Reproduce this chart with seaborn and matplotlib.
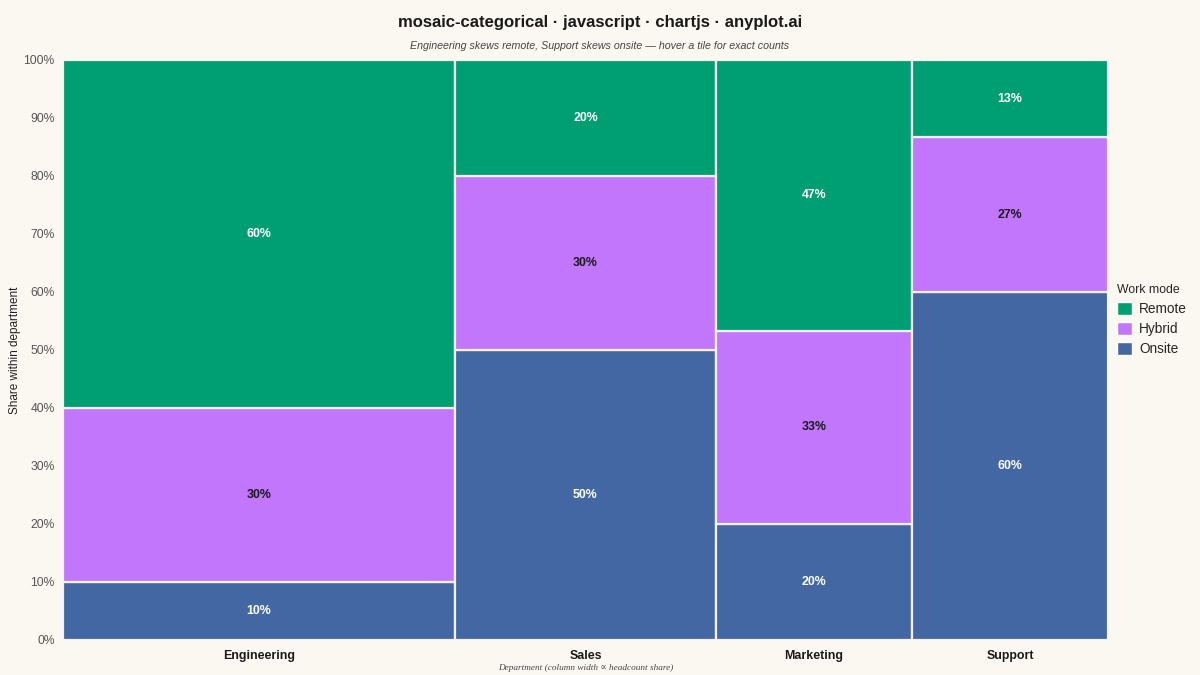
import numpy as np
import pandas as pd
import seaborn as sns
import matplotlib.pyplot as plt
from matplotlib.patches import Patch

# Headcounts (column widths + tile shares)
departments = ["Engineering", "Sales", "Marketing", "Support"]
modes = ["Onsite", "Hybrid", "Remote"]
onsite = [12, 40, 12, 36]
hybrid = [36, 24, 20, 16]
remote = [72, 16, 28, 8]

colors = {"Remote": "#009E73", "Hybrid": "#C176FC", "Onsite": "#4367A3"}
bg = "#FAF8F1"

df = pd.DataFrame({"Department": departments, "Onsite": onsite,
                   "Hybrid": hybrid, "Remote": remote})
df["Total"] = df[modes].sum(axis=1)
df["Width"] = df["Total"] / df["Total"].sum()
df["Left"] = df["Width"].cumsum() - df["Width"]

sns.set_theme(style="whitegrid")
plt.rcParams["font.family"] = ["Liberation Sans", "DejaVu Sans"]

fig = plt.figure(figsize=(12, 6.75), dpi=100, facecolor=bg)
ax = fig.add_axes([63 / 1200, 1 - 640 / 675, 1045 / 1200, 580 / 675])
ax.set_facecolor(bg)

for _, row in df.iterrows():
    bottom = 0.0
    for m in modes:
        share = row[m] / row["Total"]
        ax.bar(row["Left"], share, width=row["Width"], bottom=bottom, align="edge",
               color=colors[m], edgecolor="#f4f2ec", linewidth=1.6, zorder=2)
        txt_color = "#1a1a1a" if m == "Hybrid" else "white"
        ax.text(row["Left"] + row["Width"] / 2, bottom + share / 2, f"{share:.0%}",
                ha="center", va="center", fontsize=8.9, fontweight="bold",
                color=txt_color, zorder=3)
        bottom += share

ax.set_xlim(0, 1)
ax.set_ylim(0, 1)
ax.set_yticks(np.arange(0, 1.01, 0.1))
ax.set_yticklabels([f"{int(v * 100)}%" for v in np.arange(0, 1.01, 0.1)],
                   fontsize=8.7, color="#555555")
ax.set_xticks(df["Left"] + df["Width"] / 2)
ax.set_xticklabels(departments, fontsize=8.9, fontweight="bold", color="#1a1a1a")
ax.tick_params(axis="y", length=0, pad=6)
ax.tick_params(axis="x", length=0, pad=7)
ax.grid(axis="y", color="#e2e0da", linewidth=1, zorder=0)
ax.grid(axis="x", visible=False)
for s in ax.spines.values():
    s.set_visible(False)

fig.text(15 / 1200, 1 - 350 / 675, "Share within department", rotation=90,
         ha="center", va="center", fontsize=8.5, color="#222222")
fig.text(586 / 1200, 1 - 668 / 675, "Department (column width \u221d headcount share)",
         ha="center", va="center", fontsize=6.7, fontstyle="italic",
         family=["Liberation Serif", "DejaVu Serif"], color="#444444")

fig.text(0.5, 1 - 22 / 675, "mosaic-categorical \u00b7 javascript \u00b7 chartjs \u00b7 anyplot.ai",
         ha="center", va="center", fontsize=12, fontweight="bold", color="#1a1a1a")
fig.text(0.5, 1 - 46 / 675,
         "Engineering skews remote, Support skews onsite \u2014 hover a tile for exact counts",
         ha="center", va="center", fontsize=7.7, fontstyle="italic", color="#444444")

handles = [Patch(facecolor=colors[m], label=m) for m in ["Remote", "Hybrid", "Onsite"]]
leg = fig.legend(handles=handles, title="Work mode", loc="upper left",
                 bbox_to_anchor=(1105 / 1200, 1 - 272 / 675), frameon=False,
                 fontsize=9.8, title_fontsize=8.8, handlelength=1.1, handleheight=1.1,
                 handletextpad=0.5, labelspacing=0.42)
leg._legend_box.align = "left"

fig.savefig("out.png", dpi=100, facecolor=bg)
